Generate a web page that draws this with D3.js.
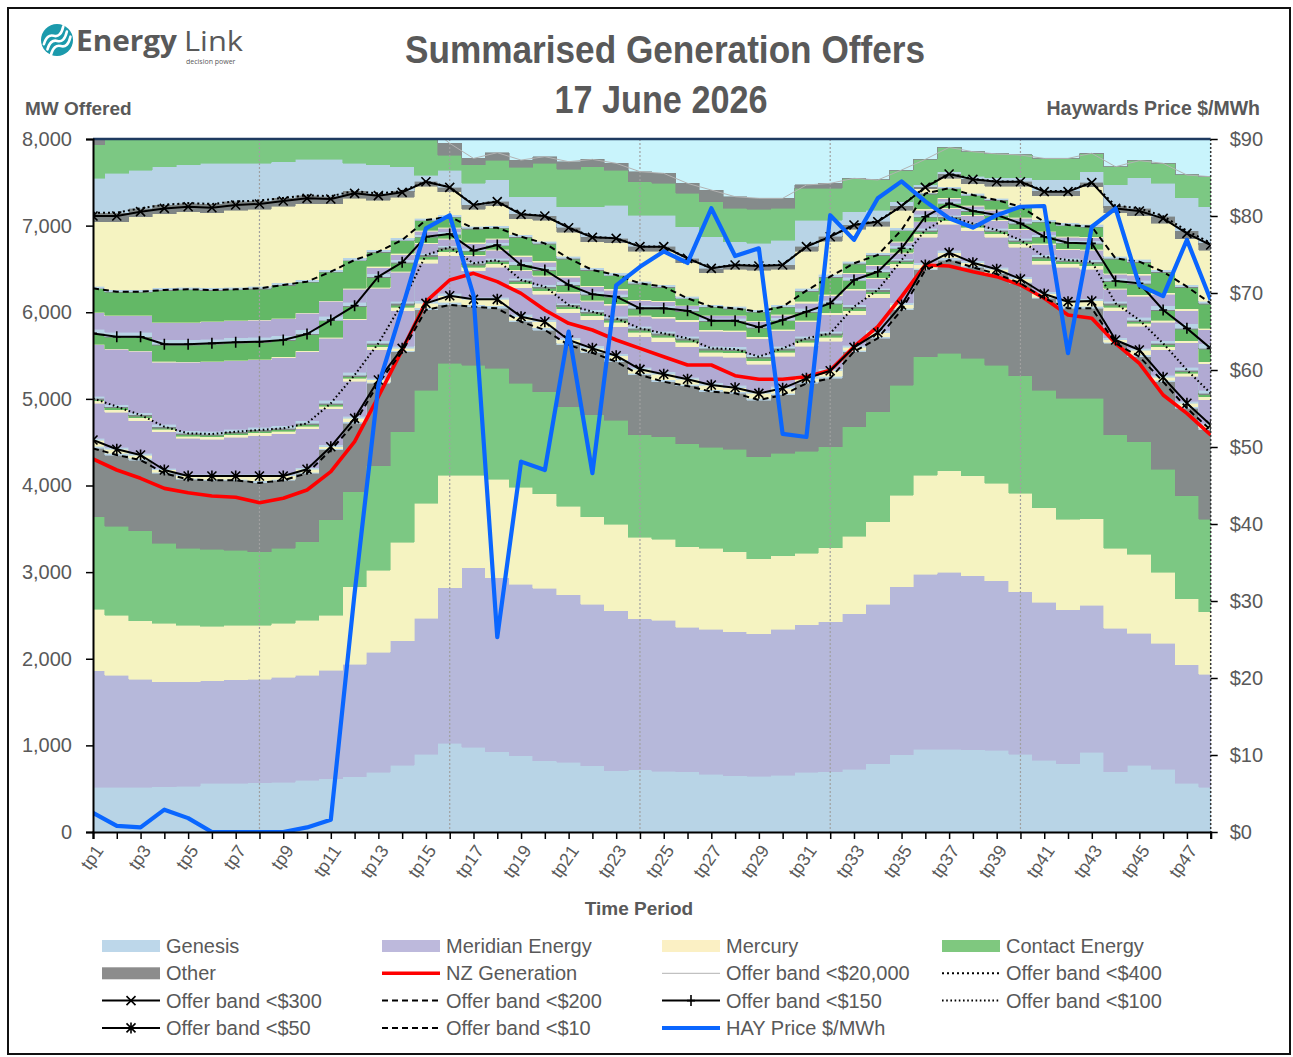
<!DOCTYPE html>
<html>
<head>
<meta charset="utf-8">
<script src="https://cdn.jsdelivr.net/npm/d3@7"></script>
<style>
  body { margin: 0; background: #fff; }
  svg text { font-family: "Liberation Sans", Arial, sans-serif; fill: #595959; }
</style>
</head>
<body>
<svg id="chart" width="1293" height="1057"></svg>
<script>
// ---- categories ----
var periods = d3.range(1, 49).map(function(i) { return 'tp' + i; });

// ---- offer band lines (cumulative MW) ----
var band10 = [4429,4352,4294,4141,4071,4060,4060,4030,4060,4141,4410,4717,5179,5545,6026,6084,6064,6045,5891,5795,5622,5533,5429,5276,5198,5149,5083,5064,4987,5045,5179,5237,5545,5699,6026,6488,6603,6519,6442,6334,6161,6045,6045,5641,5487,5198,4891,4641];
var band50 = [4525,4418,4352,4179,4110,4110,4110,4110,4110,4187,4448,4775,5218,5583,6103,6191,6149,6149,5949,5891,5680,5583,5498,5341,5284,5226,5160,5129,5064,5122,5237,5325,5595,5764,6084,6546,6688,6572,6496,6384,6211,6122,6130,5680,5564,5249,4949,4698];
var band100 = [5006,4910,4814,4679,4602,4594,4621,4641,4660,4717,4949,5275,5641,6103,6661,6750,6565,6603,6372,6295,6084,6006,5930,5814,5756,5699,5583,5575,5487,5583,5699,5756,6064,6257,6603,6949,7103,7026,6949,6834,6641,6603,6584,6103,5910,5641,5333,5064];
var band150 = [5756,5718,5718,5630,5630,5641,5653,5660,5680,5749,5910,6076,6411,6576,6872,6903,6711,6776,6546,6488,6315,6207,6180,6045,6045,6018,5903,5903,5826,5910,6006,6103,6372,6468,6738,7103,7257,7169,7122,7026,6872,6803,6795,6361,6334,6026,5814,5583];
var band200 = [6276,6237,6237,6257,6265,6257,6265,6276,6315,6353,6468,6603,6699,6834,7064,7103,6969,6976,6872,6795,6622,6488,6430,6334,6295,6161,6064,6045,6006,6064,6250,6411,6565,6661,6949,7372,7431,7353,7296,7218,7045,7007,6988,6622,6584,6468,6295,6103];
var band300 = [7111,7111,7161,7199,7218,7207,7238,7250,7284,7315,7307,7373,7346,7384,7507,7442,7238,7277,7130,7111,6976,6865,6853,6757,6757,6622,6507,6546,6534,6546,6757,6872,7007,7045,7226,7442,7596,7534,7507,7507,7392,7392,7496,7199,7169,7084,6911,6776];
var band400 = [7150,7150,7200,7240,7260,7250,7280,7290,7320,7350,7340,7400,7370,7400,7510,7445,7240,7280,7135,7115,6980,6870,6855,6760,6760,6625,6510,6550,6540,6550,6760,6875,7010,7050,7230,7450,7600,7540,7510,7510,7400,7400,7500,7230,7200,7110,6940,6800];
var band20000 = [8150,8220,8270,8270,8290,8290,8290,8290,8290,8300,8300,8290,8270,8220,8170,7950,7776,7842,7757,7796,7738,7765,7719,7623,7603,7488,7411,7334,7315,7315,7469,7488,7546,7527,7642,7765,7903,7853,7827,7815,7776,7776,7835,7680,7750,7719,7584,7565];

// ---- other series ----
var nzGeneration = [4306,4179,4083,3967,3917,3879,3864,3802,3852,3948,4160,4506,5025,5564,6122,6372,6449,6353,6218,6026,5872,5795,5680,5583,5487,5391,5391,5268,5226,5226,5256,5330,5602,5833,6180,6546,6534,6468,6411,6315,6161,5968,5930,5641,5410,5045,4833,4583];
var hayPrice = [2.5,0.8,0.6,2.9,1.8,0,0,0,0,0.6,1.6,31,58,68,78.4,80.1,69.7,25.3,48.1,47,65,46.6,71,73.4,75.4,73.9,81,74.8,75.8,51.7,51.3,80.1,76.9,82.3,84.5,81.9,79.7,78.5,80.1,81.2,81.3,62.2,78.6,81,71,69.6,76.9,69.1];

// ---- company MW by band (band top "rest" fills to the band line) ----
var genesis10 = [516,515,516,520,530,562,562,570,575,600,612,639,689,773,900,1024,980,927,881,823,804,762,708,716,704,697,666,650,646,658,689,697,727,785,889,954,954,947,943,900,831,785,920,693,773,723,562,516];
var meridian10 = [1346,1297,1246,1215,1205,1185,1193,1192,1210,1212,1258,1300,1385,1432,1567,1796,2070,2009,1978,1990,1932,1870,1847,1743,1740,1666,1677,1662,1643,1685,1701,1731,1793,1843,1943,2024,2044,2012,1955,1874,1821,1778,1700,1659,1521,1455,1366,1304];
var mercury10 = [709,693,674,674,651,631,631,624,624,635,635,893,950,1139,1327,1301,1071,1139,1120,1089,1027,1008,997,943,935,931,932,924,863,847,827,854,897,951,1058,1143,1173,1151,1127,1136,1092,1047,997,923,912,820,762,723];
var contact10 = [1069,1027,1039,924,889,885,869,850,866,904,1097,1097,1206,1277,1308,1289,1270,1277,1201,1181,1147,1174,1204,1181,1185,1186,1165,1184,1178,1180,1178,1166,1262,1273,1270,1366,1355,1358,1366,1358,1358,1396,1389,1308,1300,1192,1189,1067];

var genesis50 = [25,20,18,12,12,15,15,25,15,14,12,18,12,12,25,30,25,30,18,28,18,15,20,20,25,22,22,20,22,22,18,25,15,20,18,18,25,16,16,15,15,22,25,12,22,15,18,18];

var genesis100 = [20,22,20,18,18,18,20,20,22,20,20,22,20,25,30,30,25,25,28,25,25,28,25,25,28,25,25,28,25,25,28,25,25,28,25,25,28,25,25,28,25,25,28,25,22,25,22,20];
var mercury100 = [28,30,30,28,26,26,28,30,30,30,30,35,35,40,45,45,40,40,45,45,45,50,50,50,50,50,48,48,45,45,45,45,45,45,45,40,40,40,40,40,40,40,40,40,35,35,35,35];
var contact100 = [15,18,18,16,16,16,18,18,18,18,18,20,20,25,30,30,25,25,25,25,25,25,25,25,25,25,25,25,25,25,25,25,25,25,25,25,25,25,25,25,25,25,25,25,20,20,20,20];
var other100 = [15,15,16,16,16,16,16,16,16,16,16,18,18,20,20,20,20,20,20,20,20,20,20,20,20,20,20,20,20,20,20,20,20,20,20,20,20,20,20,20,20,20,20,20,18,18,18,18];

var genesis150 = [25,25,28,30,30,30,30,30,30,30,35,30,30,25,20,18,18,18,18,20,22,20,22,22,25,25,25,25,25,25,25,25,25,20,15,18,18,15,18,20,22,20,20,22,30,30,32,35];
var mercury150 = [5,5,8,10,10,10,10,10,10,10,12,12,15,15,12,10,10,10,10,12,15,12,15,15,18,20,20,20,20,20,18,20,18,15,10,10,10,10,10,12,15,12,12,15,20,20,25,25];
var contact150 = [115,130,150,185,190,195,195,190,185,185,190,140,110,90,60,45,40,45,50,55,70,60,75,70,85,95,95,100,100,95,90,100,90,60,40,45,45,40,50,55,70,60,60,75,120,110,130,140];
var other150 = [8,8,10,10,10,10,10,10,10,10,10,10,10,10,8,6,6,6,6,8,8,8,8,8,10,10,10,10,10,10,10,10,10,8,6,6,6,6,6,8,8,8,8,8,10,10,12,12];

var genesis200 = [50,50,50,50,50,50,50,50,50,50,45,40,35,30,25,25,30,25,35,35,35,35,30,35,30,25,25,25,28,25,40,35,30,30,28,30,25,25,25,25,25,28,28,30,35,50,55,55];
var meridian200 = [190,190,190,200,200,200,200,200,195,190,170,150,70,60,40,40,50,40,60,55,55,50,45,50,45,30,30,30,35,30,60,55,40,40,40,45,30,30,30,35,30,35,35,45,60,130,150,160];
var mercury200 = [5,5,5,5,5,5,5,5,5,5,10,10,15,15,12,12,15,12,15,15,15,15,15,15,15,10,10,10,12,10,20,15,12,12,12,15,10,10,10,12,10,12,12,15,15,20,20,20];
var other200 = [5,5,5,8,8,8,8,8,8,8,8,8,10,10,8,8,10,8,10,10,10,10,10,10,10,8,8,8,8,8,12,10,8,8,8,10,8,8,8,8,8,8,8,10,10,12,12,12];

var genesis300 = [25,25,25,25,25,25,25,25,25,25,25,25,25,25,20,20,25,20,25,25,25,25,25,25,25,25,25,25,25,25,25,25,25,25,25,10,20,20,20,20,25,25,25,25,25,25,25,25];
var other300 = [65,65,60,60,60,60,60,60,60,60,55,55,55,55,50,50,50,50,50,50,50,50,50,50,50,50,50,50,50,50,50,50,50,50,50,15,50,50,50,50,50,50,50,50,55,55,60,60];

var genesis20000 = [396,453,442,440,440,469,439,429,418,415,425,319,330,280,74,197,248,247,199,219,238,348,383,362,362,363,362,264,255,284,304,189,151,130,47,20,20,30,40,40,130,130,120,240,350,380,380,420];
var contact20000 = [385,497,508,470,470,451,451,451,432,415,415,451,450,420,466,173,212,230,339,385,432,462,404,385,366,385,405,385,393,365,366,366,385,347,365,295,283,283,277,269,249,249,212,211,204,231,269,347];

var companies = ['Genesis', 'Meridian Energy', 'Mercury', 'Contact Energy', 'Other'];
var mainColours = ['#b8d4e6', '#b6b8da', '#f5f3c1', '#7cc883', '#858b8b'];
var midColours = ['#b8d4e6', '#b1aad3', '#f5f3c1', '#63b866', '#7f8686'];

// each band: line it stacks up to, and the five company parts (array, 'rest' or 0)
var bands = [
  { top: band10,    colours: mainColours, parts: [genesis10, meridian10, mercury10, contact10, 'rest'] },
  { top: band50,    colours: midColours,  parts: [genesis50, 0, 'rest', 0, 0] },
  { top: band100,   colours: midColours,  parts: [genesis100, 'rest', mercury100, contact100, other100] },
  { top: band150,   colours: midColours,  parts: [genesis150, 'rest', mercury150, contact150, other150] },
  { top: band200,   colours: midColours,  parts: [genesis200, meridian200, mercury200, 'rest', other200] },
  { top: band300,   colours: midColours,  parts: [genesis300, 0, 'rest', 0, other300] },
  { top: band400,   colours: midColours,  parts: [0, 0, 0, 0, 'rest'] },
  { top: band20000, colours: mainColours, parts: [genesis20000, 0, 0, contact20000, 'rest'] }
];

var plot = { left: 93, right: 1210.7, top: 139, bottom: 832 };

var svg = d3.select('#chart');

var x = d3.scalePoint().domain(periods).range([plot.left, plot.right]),
    y = d3.scaleLinear().domain([0, 8000]).range([plot.bottom, plot.top]),
    yPrice = d3.scaleLinear().domain([0, 90]).range([plot.bottom, plot.top]);

// outer frame
svg.append('rect')
  .attr('x', 8).attr('y', 8).attr('width', 1282).attr('height', 1046)
  .attr('fill', 'none').attr('stroke', '#111').attr('stroke-width', 2);

svg.append('clipPath').attr('id', 'plotClip')
  .append('rect')
    .attr('x', plot.left).attr('y', plot.top)
    .attr('width', plot.right - plot.left).attr('height', plot.bottom - plot.top);

svg.append('rect')
  .attr('x', plot.left).attr('y', plot.top)
  .attr('width', plot.right - plot.left).attr('height', plot.bottom - plot.top)
  .attr('fill', '#c9f4fc');

// ---- stacked offer areas ----
var areaG = svg.append('g').attr('clip-path', 'url(#plotClip)'),
    base = periods.map(function() { return 0; }),
    segments = [];

bands.forEach(function(band) {
  var bandBase = base.slice();
  band.parts.forEach(function(part, c) {
    if (part === 0) return;
    var vals = periods.map(function(p, i) {
      if (part !== 'rest') return part[i];
      var used = band.parts.reduce(function(s, q) {
        return (q === 0 || q === 'rest') ? s : s + q[i];
      }, 0);
      return Math.max(0, band.top[i] - bandBase[i] - used);
    });
    var seg = periods.map(function(p, i) {
      var lo = base[i];
      base[i] += vals[i];
      return [lo, base[i]];
    });
    segments.push({ colour: band.colours[c], data: seg });
  });
});

var area = d3.area()
  .x(function(d, i) { return x(periods[i]); })
  .y0(function(d) { return y(d[0]); })
  .y1(function(d) { return y(d[1]); })
  .curve(d3.curveStep);

areaG.selectAll('path.seg')
  .data(segments)
  .enter()
    .append('path')
    .attr('class', 'seg')
    .attr('d', function(d) { return area(d.data); })
    .attr('fill', function(d) { return d.colour; })
    .attr('stroke', function(d) { return d.colour; })
    .attr('stroke-width', 0.6)
    .attr('shape-rendering', 'crispEdges');

// vertical dotted gridlines every 8 periods
var gridIdx = [7, 15, 23, 31, 39];
svg.append('g').selectAll('line')
  .data(gridIdx)
  .enter()
    .append('line')
    .attr('x1', function(i) { return x(periods[i]); })
    .attr('x2', function(i) { return x(periods[i]); })
    .attr('y1', plot.top).attr('y2', plot.bottom)
    .attr('stroke', '#a0a0a0').attr('stroke-width', 1.2)
    .attr('stroke-dasharray', '2,2');

// ---- lines ----
var lineG = svg.append('g').attr('clip-path', 'url(#plotClip)');

var mwLine = d3.line()
  .x(function(d, i) { return x(periods[i]); })
  .y(function(d) { return y(d); });

var markerPaths = {
  cross: 'M-4.5,-4.5L4.5,4.5M-4.5,4.5L4.5,-4.5',
  star: 'M-4.5,-4.5L4.5,4.5M-4.5,4.5L4.5,-4.5M0,-5.5L0,5.5',
  plus: 'M0,-5.5L0,5.5M-4,0L4,0'
};

var series = [
  { name: 'NZ Generation', vals: nzGeneration, colour: '#ff0000', width: 3.6 },
  { name: 'Offer band <$20,000', vals: band20000, colour: '#b2b2b2', width: 1 },
  { name: 'Offer band <$400', vals: band400, colour: '#000', width: 2, dash: '2,3' },
  { name: 'Offer band <$300', vals: band300, colour: '#000', width: 2, marker: 'cross' },
  { name: 'Offer band <$200', vals: band200, colour: '#000', width: 2, dash: '6,4' },
  { name: 'Offer band <$150', vals: band150, colour: '#000', width: 2, marker: 'plus' },
  { name: 'Offer band <$100', vals: band100, colour: '#000', width: 2, dash: '1.6,2.6' },
  { name: 'Offer band <$50', vals: band50, colour: '#000', width: 2, marker: 'star' },
  { name: 'Offer band <$10', vals: band10, colour: '#000', width: 2, dash: '6,4' }
];

// legend lists the red line first but the chart shows the low bands drawn over it
var drawOrder = [1, 2, 3, 4, 5, 6, 0, 7, 8];
drawOrder.forEach(function(k) {
  var s = series[k];
  lineG.append('path')
    .attr('d', mwLine(s.vals))
    .attr('fill', 'none')
    .attr('stroke', s.colour)
    .attr('stroke-width', s.width)
    .attr('stroke-dasharray', s.dash || null)
    .attr('stroke-linejoin', 'round');
  if (s.marker) {
    lineG.selectAll(null)
      .data(s.vals)
      .enter()
        .append('path')
        .attr('transform', function(d, i) { return 'translate(' + x(periods[i]) + ',' + y(d) + ')'; })
        .attr('d', markerPaths[s.marker])
        .attr('stroke', '#000').attr('stroke-width', 1.6).attr('fill', 'none');
  }
});

var priceLine = d3.line()
  .x(function(d, i) { return x(periods[i]); })
  .y(function(d) { return yPrice(d); });

lineG.append('path')
  .attr('d', priceLine(hayPrice))
  .attr('fill', 'none')
  .attr('stroke', '#0a66ff')
  .attr('stroke-width', 4.2)
  .attr('stroke-linejoin', 'round');

// ---- axes ----
svg.append('line')
  .attr('x1', plot.left).attr('x2', plot.right).attr('y1', plot.top).attr('y2', plot.top)
  .attr('stroke', '#1f3a60').attr('stroke-width', 2.5);

svg.append('line')
  .attr('x1', plot.right).attr('x2', plot.right).attr('y1', plot.top).attr('y2', plot.bottom)
  .attr('stroke', '#333').attr('stroke-width', 1.5).attr('stroke-dasharray', '2,2');

var leftAxis = svg.append('g')
  .attr('transform', 'translate(' + plot.left + ',0)')
  .call(d3.axisLeft(y).tickValues(d3.range(0, 8001, 1000)).tickFormat(d3.format(',')).tickSize(7).tickPadding(14));

var rightAxis = svg.append('g')
  .attr('transform', 'translate(' + plot.right + ',0)')
  .call(d3.axisRight(yPrice).tickValues(d3.range(0, 91, 10)).tickFormat(function(d) { return '$' + d; }).tickSize(7).tickPadding(12));

var bottomAxis = svg.append('g')
  .attr('transform', 'translate(0,' + plot.bottom + ')')
  .call(d3.axisBottom(x).tickSize(7).tickFormat(''));

[leftAxis, rightAxis, bottomAxis].forEach(function(g) {
  g.selectAll('.tick line').attr('stroke', '#000').attr('stroke-width', 1.5);
  g.selectAll('text').style('font-size', '20px').attr('fill', '#595959');
});
leftAxis.select('.domain').attr('stroke', '#000').attr('stroke-width', 2);
rightAxis.select('.domain').remove();
bottomAxis.select('.domain').attr('stroke', '#000').attr('stroke-width', 2.2);

// rotated period labels, every second period
svg.append('g').selectAll('text')
  .data(periods.filter(function(p, i) { return i % 2 === 0; }))
  .enter()
    .append('text')
    .attr('transform', function(d) { return 'translate(' + (x(d) + 6) + ',' + (plot.bottom + 15) + ') rotate(-55)'; })
    .attr('text-anchor', 'end')
    .attr('dy', '0.35em')
    .style('font-size', '18px')
    .text(function(d) { return d; });

// ---- titles ----
svg.append('text')
  .attr('x', 665).attr('y', 63)
  .attr('text-anchor', 'middle')
  .attr('textLength', 520).attr('lengthAdjust', 'spacingAndGlyphs')
  .style('font-size', '39px').style('font-weight', 'bold')
  .text('Summarised Generation Offers');

svg.append('text')
  .attr('x', 661).attr('y', 113)
  .attr('text-anchor', 'middle')
  .attr('textLength', 213).attr('lengthAdjust', 'spacingAndGlyphs')
  .style('font-size', '39px').style('font-weight', 'bold')
  .text('17 June 2026');

svg.append('text')
  .attr('x', 25).attr('y', 115)
  .style('font-size', '19px').style('font-weight', 'bold')
  .text('MW Offered');

svg.append('text')
  .attr('x', 1260).attr('y', 115)
  .attr('text-anchor', 'end')
  .style('font-size', '19.5px').style('font-weight', 'bold')
  .text('Haywards Price $/MWh');

svg.append('text')
  .attr('x', 639).attr('y', 915)
  .attr('text-anchor', 'middle')
  .style('font-size', '19px').style('font-weight', 'bold')
  .text('Time Period');

// ---- logo ----
var logo = svg.append('g');
logo.append('circle').attr('cx', 57).attr('cy', 40).attr('r', 16).attr('fill', '#1b9aac');
[-6, 0, 6].forEach(function(off) {
  logo.append('path')
    .attr('d', 'M' + (45 + off * 0.3) + ',' + (46 + off) + ' q6,-9 12,-5 t12,-6')
    .attr('transform', 'rotate(-18,57,40)')
    .attr('fill', 'none').attr('stroke', '#fff').attr('stroke-width', 2.6).attr('stroke-linecap', 'round');
});
logo.append('text')
  .attr('x', 76).attr('y', 51)
  .attr('textLength', 101).attr('lengthAdjust', 'spacingAndGlyphs')
  .style('font-family', '"Open Sans", sans-serif')
  .style('font-size', '28px').style('font-weight', 700).attr('fill', '#1d4f7c')
  .text('Energy');
logo.append('text')
  .attr('x', 184).attr('y', 51)
  .attr('textLength', 59).attr('lengthAdjust', 'spacingAndGlyphs')
  .style('font-family', '"Open Sans", sans-serif')
  .style('font-size', '28px').style('font-weight', 400).attr('fill', '#1d4f7c')
  .text('Link');
logo.append('text')
  .attr('x', 186).attr('y', 64)
  .style('font-family', '"Open Sans", sans-serif')
  .style('font-size', '7px').attr('fill', '#d9486e')
  .text('decision power');

// ---- legend ----
var legendItems = [
  { name: 'Genesis', fill: '#bdd7ea' },
  { name: 'Meridian Energy', fill: '#bdb9dc' },
  { name: 'Mercury', fill: '#fbf0c4' },
  { name: 'Contact Energy', fill: '#7fc87f' },
  { name: 'Other', fill: '#8c8c8c' },
  { name: 'NZ Generation', s: series[0] },
  { name: 'Offer band <$20,000', s: series[1] },
  { name: 'Offer band <$400', s: series[2] },
  { name: 'Offer band <$300', s: series[3] },
  { name: 'Offer band <$200', s: series[4] },
  { name: 'Offer band <$150', s: series[5] },
  { name: 'Offer band <$100', s: series[6] },
  { name: 'Offer band <$50', s: series[7] },
  { name: 'Offer band <$10', s: series[8] },
  { name: 'HAY Price $/MWh', s: { colour: '#0a66ff', width: 4 } }
];

var legend = svg.append('g');
legendItems.forEach(function(item, k) {
  var col = k % 4, row = Math.floor(k / 4),
      lx = 102 + col * 280, ly = 946 + row * 27.3,
      g = legend.append('g').attr('transform', 'translate(' + lx + ',' + ly + ')');
  if (item.fill) {
    g.append('rect').attr('x', 0).attr('y', -6).attr('width', 58).attr('height', 12).attr('fill', item.fill);
  } else {
    var s = item.s;
    g.append('line')
      .attr('x1', 0).attr('x2', 58).attr('y1', 0).attr('y2', 0)
      .attr('stroke', s.colour).attr('stroke-width', s.width)
      .attr('stroke-dasharray', s.dash || null);
    if (s.marker) {
      g.append('path').attr('transform', 'translate(29,0)')
        .attr('d', markerPaths[s.marker]).attr('stroke', '#000').attr('stroke-width', 1.6);
    }
  }
  g.append('text')
    .attr('x', 64).attr('y', 0).attr('dy', '0.35em')
    .style('font-size', '20px')
    .text(item.name);
});
</script>
</body>
</html>
